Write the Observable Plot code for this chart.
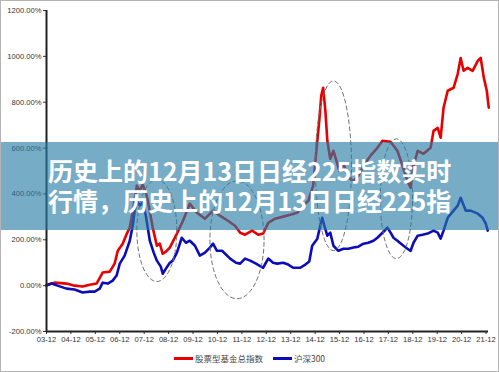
<!DOCTYPE html>
<html><head><meta charset="utf-8">
<script src="https://cdn.jsdelivr.net/npm/d3@7"></script>
<script src="https://cdn.jsdelivr.net/npm/@observablehq/plot@0.6"></script>
<style>
body{margin:0;background:#fff;}
#wrap{position:relative;width:499px;height:372px;overflow:hidden;background:#fff;font-family:"Liberation Sans",Arial,sans-serif;}
#chart svg{display:block;}
#frame{position:absolute;left:0;top:0;width:499px;height:372px;box-sizing:border-box;border:1px solid #b4b4b4;pointer-events:none;}
#banner{position:absolute;left:0;top:142px;width:499px;height:88px;background:rgba(40,123,164,0.63);}
#title{position:absolute;left:48px;top:155px;color:#fff;font-family:"Noto Sans CJK SC",sans-serif;font-weight:700;font-size:25px;line-height:30px;white-space:nowrap;}
#legend{position:absolute;left:0;top:350px;width:499px;height:16px;display:flex;justify-content:center;align-items:center;font-family:"Noto Sans CJK SC",sans-serif;font-size:8.5px;color:#444;}
#legend .item{display:flex;align-items:center;margin:0 5px;}
#legend .sw{width:19px;height:3px;margin-right:2px;}
</style>
</head><body>
<div id="wrap">
<div id="chart"></div>
<div id="legend"></div>
<div id="banner"></div>
<div id="title"><div>历史上的12月13日日经225指数实时</div><div>行情，历史上的12月13日日经225指</div></div>
<div id="frame"></div>
</div>
<script>
// x = years since 2003-12
const xLabels = ["03-12","04-12","05-12","06-12","07-12","08-12","09-12","10-12","11-12","12-12","13-12","14-12","15-12","16-12","17-12","18-12","19-12","20-12","21-12"];
const yTicks = [-200,0,200,400,600,800,1000,1200];
const seriesNames = ["股票型基金总指数","沪深300"];
const seriesColors = ["#e60000","#0c0cb8"];

const redT = [0,0.33,0.82,1.15,1.48,1.77,2.05,2.30,2.59,2.79,2.92,3.12,3.29,3.41,3.57,3.70,3.82,3.94,4.07,4.15,4.35,4.52,4.64,4.76,4.89,5.05,5.34,5.59,5.87,6.16,6.49,6.82,7.10,7.43,7.72,7.93,8.13,8.42,8.67,8.87,9.08,9.36,9.69,9.98,10.27,10.51,10.72,10.92,11.05,11.17,11.25,11.33,11.42,11.50,11.62,11.75,11.87,11.99,12.16,12.36,12.57,12.77,12.98,13.26,13.55,13.76,14.09,14.37,14.58,14.78,14.91,15.03,15.20,15.44,15.73,15.85,16.02,16.14,16.26,16.43,16.67,16.84,16.96,17.08,17.25,17.45,17.66,17.78,17.91,18.03,18.11];
const redV = [4,13,9,0,-4,4,9,57,61,96,152,183,227,253,349,436,414,440,405,370,253,174,183,139,148,166,227,283,357,318,292,327,305,283,261,231,222,240,222,227,274,292,301,309,318,349,370,436,588,719,828,863,762,632,553,588,545,501,532,471,457,479,523,566,601,632,627,588,523,457,427,523,588,575,601,675,688,645,776,850,863,924,993,937,950,937,980,993,906,850,776];

const blueT = [0,0.21,0.45,0.82,1.15,1.48,1.77,1.97,2.18,2.30,2.51,2.71,2.87,3.00,3.20,3.41,3.53,3.61,3.70,3.82,3.94,4.07,4.23,4.39,4.52,4.68,4.76,4.89,5.05,5.17,5.34,5.54,5.71,5.87,6.08,6.28,6.49,6.69,6.82,6.98,7.19,7.52,7.76,7.93,8.13,8.34,8.58,8.87,9.08,9.28,9.45,9.69,9.90,10.10,10.39,10.60,10.76,10.88,11.09,11.21,11.29,11.38,11.50,11.62,11.75,11.95,12.16,12.36,12.57,12.77,12.98,13.18,13.39,13.55,13.80,13.96,14.09,14.21,14.37,14.62,14.78,14.91,15.03,15.20,15.40,15.61,15.85,16.02,16.14,16.26,16.43,16.67,16.84,16.96,17.17,17.37,17.66,17.86,17.99,18.07];
const blueV = [0,9,0,-13,-17,-30,-26,-26,-13,13,9,22,44,96,131,196,261,327,370,349,362,305,196,144,109,83,52,74,100,109,144,209,187,196,174,131,144,166,183,152,152,118,100,96,118,109,96,78,118,100,96,100,92,78,78,92,105,174,205,261,296,261,218,231,174,152,161,161,166,170,183,187,196,209,235,253,231,209,196,174,161,152,187,218,222,227,240,231,205,240,296,327,349,383,327,327,314,296,270,240];

// dashed annotation ellipses: center (years, %), radii (years, %)
const ellipseCT = [4.52,7.80,11.75,14.33];
const ellipseCV = [240,200,523,379];
const ellipseRT = [0.82,1.11,0.74,0.66];
const ellipseRV = [222,257,370,261];

const red = redT.map((t,i)=>({t, v: redV[i]}));
const blue = blueT.map((t,i)=>({t, v: blueV[i]}));
const ell = [];
ellipseCT.forEach((cx,k)=>{
  for(let a=0;a<=72;a++){
    const th = a/72*2*Math.PI;
    ell.push({k, t: cx + ellipseRT[k]*Math.cos(th), v: ellipseCV[k] + ellipseRV[k]*Math.sin(th)});
  }
});

const chart = Plot.plot({
  width: 499,
  height: 348,
  marginLeft: 46,
  marginRight: 11,
  marginTop: 10,
  marginBottom: 17,
  style: {fontFamily: '"Liberation Sans", Arial, sans-serif', fontSize: "7.6px", color: "#333", background: "transparent", overflow: "visible"},
  x: {domain: [0, 18.1], ticks: d3.range(xLabels.length), tickFormat: i => xLabels[i], tickSize: 3, tickPadding: 2, label: null},
  y: {domain: [-200, 1200], ticks: yTicks, tickFormat: d => d.toFixed(2) + "%", tickSize: 3, tickPadding: 2, label: null},
  marks: [
    Plot.line(red, {x: "t", y: "v", stroke: seriesColors[0], strokeWidth: 2.6}),
    Plot.line(blue, {x: "t", y: "v", stroke: seriesColors[1], strokeWidth: 2.6}),
    Plot.line(ell, {x: "t", y: "v", z: "k", stroke: "#707070", strokeWidth: 1, strokeDasharray: "4,3"}),
    Plot.ruleX([0], {y1: -200, y2: 1200, stroke: "#222", strokeWidth: 2}),
    Plot.ruleY([-200], {x1: 0, x2: 18.1, stroke: "#222", strokeWidth: 2})
  ]
});
document.getElementById("chart").appendChild(chart);

const lg = document.getElementById("legend");
seriesNames.forEach((n,i)=>{
  const it = document.createElement("div"); it.className = "item";
  const sw = document.createElement("div"); sw.className = "sw"; sw.style.background = seriesColors[i];
  const tx = document.createElement("span"); tx.textContent = n;
  it.appendChild(sw); it.appendChild(tx); lg.appendChild(it);
});
</script>
</body></html>
